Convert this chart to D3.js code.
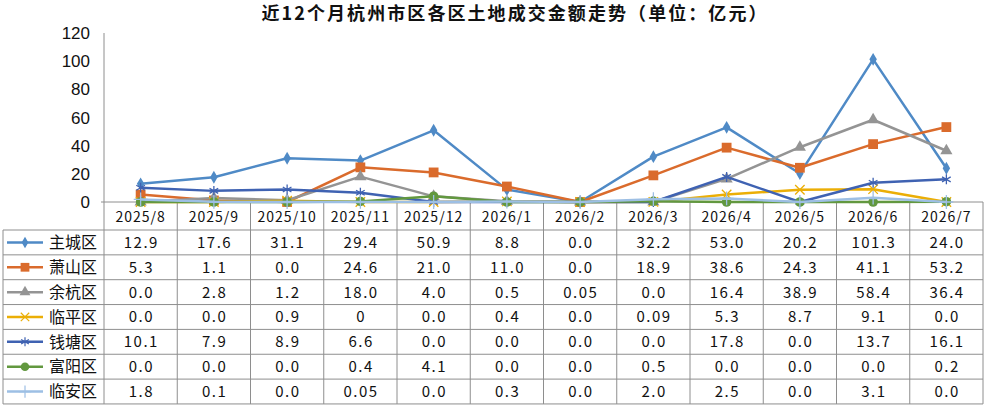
<!DOCTYPE html>
<html lang="zh">
<head>
<meta charset="utf-8">
<title>近12个月杭州市区各区土地成交金额走势</title>
<script src="https://d3js.org/d3.v7.min.js"></script>
<style>
  body { margin: 0; background: #fff; }
  svg { display: block; }
  .title { font-family: "Noto Sans CJK SC", sans-serif; font-weight: bold; font-size: 18px; fill: #111; }
  .ytick { font-family: "Liberation Sans", Arial, sans-serif; font-size: 17px; fill: #111; }
  .cell { font-family: "Noto Sans CJK SC", sans-serif; font-size: 15px; fill: #111; letter-spacing: 1.5px; }
  .head { font-family: "Noto Sans CJK SC", sans-serif; font-size: 14px; fill: #111; letter-spacing: 1px; }
  .name { font-family: "Noto Sans CJK SC", sans-serif; font-size: 16px; fill: #111; }
</style>
</head>
<body>
<svg id="chart" width="987" height="408"></svg>
<script>
// months and district series, as in the table under the chart
var months = ["2025/8","2025/9","2025/10","2025/11","2025/12","2026/1","2026/2","2026/3","2026/4","2026/5","2026/6","2026/7"];
var names = ["主城区","萧山区","余杭区","临平区","钱塘区","富阳区","临安区"];
var zhucheng = ["12.9","17.6","31.1","29.4","50.9","8.8","0.0","32.2","53.0","20.2","101.3","24.0"];
var xiaoshan = ["5.3","1.1","0.0","24.6","21.0","11.0","0.0","18.9","38.6","24.3","41.1","53.2"];
var yuhang   = ["0.0","2.8","1.2","18.0","4.0","0.5","0.05","0.0","16.4","38.9","58.4","36.4"];
var linping  = ["0.0","0.0","0.9","0","0.0","0.4","0.0","0.09","5.3","8.7","9.1","0.0"];
var qiantang = ["10.1","7.9","8.9","6.6","0.0","0.0","0.0","0.0","17.8","0.0","13.7","16.1"];
var fuyang   = ["0.0","0.0","0.0","0.4","4.1","0.0","0.0","0.5","0.0","0.0","0.0","0.2"];
var linan    = ["1.8","0.1","0.0","0.05","0.0","0.3","0.0","2.0","2.5","0.0","3.1","0.0"];
var yTicks = [0, 20, 40, 60, 80, 100, 120];

var colors = ["#4F8AC6","#DA6B2C","#949494","#EBAE06","#3F62B2","#62983F","#9DBFE4"];
var symbols = [d3.symbolDiamond, d3.symbolSquare, d3.symbolTriangle, d3.symbolTimes, d3.symbolAsterisk, d3.symbolCircle, d3.symbolPlus];
var symSize = [48, 96, 64, 60, 70, 72, 64];
var filled = [true, true, true, false, false, true, false];

var series = [zhucheng, xiaoshan, yuhang, linping, qiantang, fuyang, linan];

var svg = d3.select("#chart");
var gridColor = "#8e8e8e";

var x = d3.scaleBand().domain(months).range([104, 983]);
var y = d3.scaleLinear().domain([0, 120]).range([202, 33]);

svg.append("text").attr("class", "title")
   .attr("x", 514).attr("y", 20).attr("text-anchor", "middle")
   .attr("textLength", 505).attr("lengthAdjust", "spacing")
   .text("近12个月杭州市区各区土地成交金额走势（单位：亿元）");

// y axis
svg.append("line").attr("x1", 104).attr("x2", 104).attr("y1", y(120)).attr("y2", y(0))
   .attr("stroke", gridColor).attr("stroke-width", 1);
svg.selectAll("text.ytick").data(yTicks).enter().append("text")
   .attr("class", "ytick").attr("x", 90).attr("y", d => y(d)).attr("dy", "0.36em")
   .attr("text-anchor", "end").text(d => d);

// table rows
var rowTop = 230, rowH = 24.85;
var tableBottom = rowTop + rowH * names.length;
svg.append("line").attr("x1", 101).attr("x2", 983).attr("y1", y(0)).attr("y2", y(0))
   .attr("stroke", gridColor);
var bounds = months.map(m => x(m)).concat([983]);
svg.selectAll("line.vcol").data(bounds).enter().append("line")
   .attr("x1", d => d).attr("x2", d => d).attr("y1", y(0)).attr("y2", tableBottom)
   .attr("stroke", gridColor);
svg.selectAll("line.hrow").data(d3.range(names.length + 1)).enter().append("line")
   .attr("x1", 3).attr("x2", 983)
   .attr("y1", i => rowTop + i * rowH).attr("y2", i => rowTop + i * rowH)
   .attr("stroke", gridColor);
svg.append("line").attr("x1", 3).attr("x2", 3).attr("y1", rowTop).attr("y2", tableBottom)
   .attr("stroke", gridColor);

svg.selectAll("text.head").data(months).enter().append("text")
   .attr("class", "head").attr("x", d => x(d) + x.bandwidth() / 2).attr("y", 216.5)
   .attr("dy", "0.36em").attr("text-anchor", "middle").text(d => d);

series.forEach(function (vals, s) {
  var cy = rowTop + rowH * s + rowH / 2;
  var row = svg.append("g");
  row.append("line").attr("x1", 7).attr("x2", 43).attr("y1", cy).attr("y2", cy)
     .attr("stroke", colors[s]).attr("stroke-width", 2.5);
  row.append("path").attr("d", d3.symbol().type(symbols[s]).size(symSize[s] * 0.8)())
     .attr("transform", "translate(25," + cy + ")")
     .attr("fill", filled[s] ? colors[s] : "none")
     .attr("stroke", colors[s]).attr("stroke-width", filled[s] ? 0 : 1.2);
  row.append("text").attr("class", "name").attr("x", 49).attr("y", cy).attr("dy", "0.36em")
     .text(names[s]);
  row.selectAll("text.cell").data(vals).enter().append("text")
     .attr("class", "cell").attr("x", (d, i) => x(months[i]) + x.bandwidth() / 2 + 0.75)
     .attr("y", cy).attr("dy", "0.36em").attr("text-anchor", "middle").text(d => d);
});

// lines and markers
var line = d3.line().x((d, i) => x(months[i]) + x.bandwidth() / 2).y(d => y(+d));
series.forEach(function (vals, s) {
  var g = svg.append("g");
  g.append("path").attr("d", line(vals)).attr("fill", "none")
   .attr("stroke", colors[s]).attr("stroke-width", 2.5).attr("stroke-linejoin", "round");
  g.selectAll("path.mk").data(vals).enter().append("path")
   .attr("d", d3.symbol().type(symbols[s]).size(symSize[s]))
   .attr("transform", (d, i) => "translate(" + (x(months[i]) + x.bandwidth() / 2) + "," + y(+d) + ")")
   .attr("fill", filled[s] ? colors[s] : "none")
   .attr("stroke", colors[s]).attr("stroke-width", filled[s] ? 0 : 1.3);
});
</script>
</body>
</html>
